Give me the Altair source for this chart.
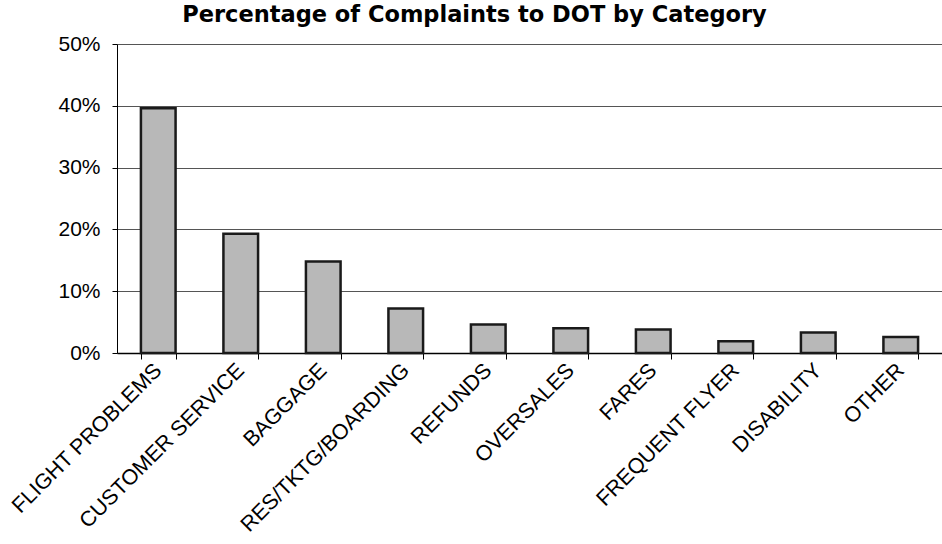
import altair as alt
import pandas as pd

# Share of complaints filed with the DOT, by category (percent)
categories = [
    "FLIGHT PROBLEMS",
    "CUSTOMER SERVICE",
    "BAGGAGE",
    "RES/TKTG/BOARDING",
    "REFUNDS",
    "OVERSALES",
    "FARES",
    "FREQUENT FLYER",
    "DISABILITY",
    "OTHER",
]
shares = [39.6, 19.3, 14.8, 7.2, 4.6, 4.0, 3.8, 1.9, 3.3, 2.6]
y_ticks = [0, 10, 20, 30, 40, 50]

df = pd.DataFrame({"category": categories, "share": shares})

FONT = "Liberation Sans"

chart = (
    alt.Chart(df)
    .mark_bar(color="#b8b8b8", stroke="#1a1a1a", strokeWidth=2.5)
    .encode(
        x=alt.X(
            "category:N",
            sort=categories,
            scale=alt.Scale(paddingInner=0.58, paddingOuter=0.29),
            axis=alt.Axis(
                title=None,
                labelAngle=-45,
                labelAlign="right",
                labelBaseline="middle",
                labelFont=FONT,
                labelFontSize=21.5,
                labelColor="black",
                labelPadding=8,
                labelLimit=0,
                labelOverlap=False,
                tickBand="extent",
                ticks=True,
                tickSize=6,
                tickColor="black",
                domainColor="black",
                domainWidth=1.5,
                grid=False,
            ),
        ),
        y=alt.Y(
            "share:Q",
            scale=alt.Scale(domain=[0, 50], nice=False),
            axis=alt.Axis(
                title=None,
                values=y_ticks,
                labelExpr="datum.value + '%'",
                labelFont=FONT,
                labelFontSize=21,
                labelColor="black",
                labelPadding=12,
                tickSize=5,
                tickColor="black",
                domainColor="black",
                grid=True,
                gridColor="#555555",
                gridWidth=1.2,
            ),
        ),
    )
    .properties(
        width=825,
        height=309,
        autosize=alt.AutoSizeParams(type="none"),
        padding={"left": 117, "top": 44, "right": 0, "bottom": 191},
        title=alt.TitleParams(
            "Percentage of Complaints to DOT by Category",
            font="DejaVu Sans",
            fontSize=22.5,
            fontWeight="bold",
            color="black",
            anchor="middle",
            dx=-55,
            offset=7,
        ),
    )
    .configure_view(stroke=None)
)

chart.save("out.html", embed_options={"renderer": "svg", "actions": False})
